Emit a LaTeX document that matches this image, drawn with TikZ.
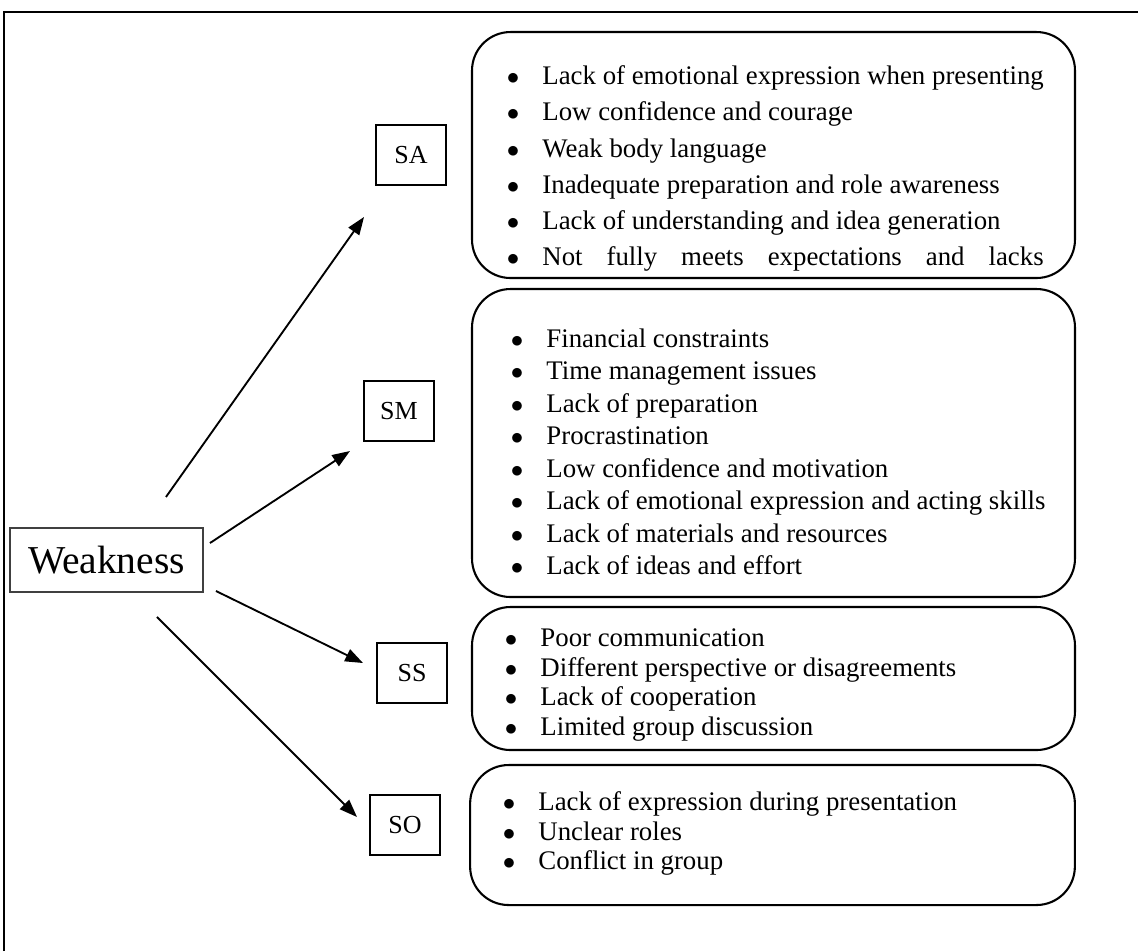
\documentclass[tikz,border=0pt]{standalone}
\usepackage{fontspec}
\setmainfont{Liberation Serif}
\usepackage{tikz}
\usetikzlibrary{arrows.meta,positioning}
\newcommand\bul{\makebox[0.6cm][l]{$\bullet$}}
\tikzset{
  pageframe/.style={line width=1pt, black},
  rootbox/.style={rectangle, draw=black!75, line width=0.6pt,
    minimum width=3.26cm, minimum height=1.08cm, inner sep=0pt,
    font=\fontsize{19}{22}\selectfont},
  catbox/.style={rectangle, draw, line width=0.8pt,
    minimum width=1.18cm, minimum height=1.01cm, inner sep=0pt,
    font=\fontsize{12.5}{14}\selectfont},
  listbox/.style={rectangle, rounded corners=0.65cm, draw, line width=1pt,
    minimum width=10.19cm, inner sep=0pt},
  items/.style={anchor=north west, align=left, inner sep=0pt},
  edge/.style={-{Triangle[length=0.3cm, width=0.22cm]}, line width=0.9pt},
}
\begin{document}
\begin{tikzpicture}

\useasboundingbox (0,0) rectangle (19.232,-16.072);

\def\xbox{13.072}

% ── frame (open on the right and at the bottom) ────────────────────────────
\draw[pageframe] (0.068,-16.072) -- (0.068,-0.203) -- (19.232,-0.203);

% ── root ───────────────────────────────────────────────────────────────────
\node[rootbox] (weak) at (1.80,-9.464) {Weakness};

% ── categories ─────────────────────────────────────────────────────────────
\node[catbox] (sa) at (6.946,-2.620) {SA};
\node[catbox] (sm) at (6.743,-6.946) {SM};
\node[catbox] (ss) at (6.963,-11.374) {SS};
\node[catbox] (so) at (6.845,-13.943) {SO};

% ── arrows: they stop short of both boxes ──────────────────────────────────
\coordinate (saTail) at (2.805,-8.399);
\coordinate (saTip)  at (6.152,-3.667);
\coordinate (smTail) at (3.549,-9.177);
\coordinate (smTip)  at (5.915,-7.622);
\coordinate (ssTail) at (3.650,-9.988);
\coordinate (ssTip)  at (6.135,-11.205);
\coordinate (soTail) at (2.653,-10.427);
\coordinate (soTip)  at (6.033,-13.807);
\draw[edge] (saTail) -- (saTip);
\draw[edge] (smTail) -- (smTip);
\draw[edge] (ssTail) -- (ssTip);
\draw[edge] (soTail) -- (soTip);

% ── SA ─────────────────────────────────────────────────────────────────────
% last line is justified out to the width of the first one
\node[listbox, minimum height=4.157cm] (saBox) at (\xbox,-2.620) {};
\node[items, font=\fontsize{12.9}{17.4}\selectfont] (saList) at (8.56,-1.107)
  {\bul Lack of emotional expression when presenting\\
   \bul Low confidence and courage\\
   \bul Weak body language\\
   \bul Inadequate preparation and role awareness\\
   \bul Lack of understanding and idea generation\\
   \bul\makebox[8.47cm][s]{Not fully meets expectations and lacks}};

% ── SM ─────────────────────────────────────────────────────────────────────
\node[listbox, minimum height=5.205cm] (smBox) at (\xbox,-7.487) {};
\node[items, font=\fontsize{12.9}{15.6}\selectfont] (smList) at (8.627,-5.552)
  {\bul Financial constraints\\
   \bul Time management issues\\
   \bul Lack of preparation\\
   \bul Procrastination\\
   \bul Low confidence and motivation\\
   \bul Lack of emotional expression and acting skills\\
   \bul Lack of materials and resources\\
   \bul Lack of ideas and effort};

% ── SS ─────────────────────────────────────────────────────────────────────
\node[listbox, minimum height=2.417cm] (ssBox) at (\xbox,-11.467) {};
\node[items, font=\fontsize{12.9}{14.2}\selectfont] (ssList) at (8.526,-10.622)
  {\bul Poor communication\\
   \bul Different perspective or disagreements\\
   \bul Lack of cooperation\\
   \bul Limited group discussion};

% ── SO ─────────────────────────────────────────────────────────────────────
\node[listbox, minimum height=2.366cm, minimum width=10.22cm] (soBox)
  at (13.055,-14.112) {};
\node[items, font=\fontsize{12.9}{14.2}\selectfont] (soList) at (8.492,-13.376)
  {\bul Lack of expression during presentation\\
   \bul Unclear roles\\
   \bul Conflict in group};

\end{tikzpicture}
\end{document}
